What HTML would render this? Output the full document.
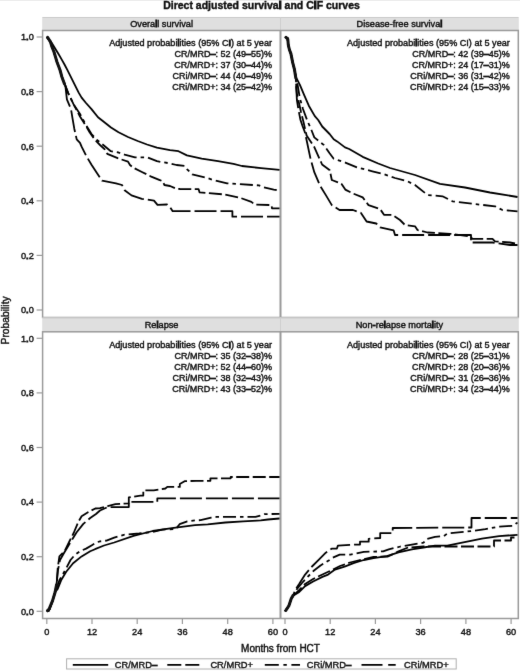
<!DOCTYPE html><html><head><meta charset="utf-8"><style>html,body{margin:0;padding:0;background:#fff;width:520px;height:672px;overflow:hidden}svg{display:block}text{font-family:"Liberation Sans", sans-serif;fill:#111;stroke:#111;stroke-width:0.4px}.b{stroke-width:1.1px}svg{will-change:transform}</style></head><body>
<svg width="520" height="672" viewBox="0 0 520 672">
<rect width="520" height="672" fill="#fff"/>
<defs><filter id="bl" x="0" y="0" width="1" height="1" color-interpolation-filters="sRGB"><feConvolveMatrix order="3" kernelMatrix="0.0052 0.0619 0.0052 0.0619 0.7314 0.0619 0.0052 0.0619 0.0052" divisor="1" edgeMode="duplicate" preserveAlpha="true"/></filter></defs><g filter="url(#bl)"><rect width="520" height="672" fill="#fff"/>
<text x="261.5" y="8.5" font-size="10.5" font-weight="bold" text-anchor="middle">Direct adjusted surviva<tspan class="b">l</tspan> and C<tspan class="b">I</tspan>F curves</text>
<rect x="42.2" y="17.0" width="476.5999999999999" height="13.5" fill="#dfdfdf"/>
<line x1="42.6" y1="17.5" x2="518.3" y2="17.5" stroke="#cbcbcb" stroke-width="1"/>
<line x1="280.5" y1="17.0" x2="280.5" y2="30.5" stroke="#cfcfcf" stroke-width="1"/>
<text x="161.6" y="27.0" font-size="9.2" text-anchor="middle">Overa<tspan class="b">l</tspan>l survival</text>
<text x="272.0" y="46.3" font-size="9.1" text-anchor="end">Adjusted probabi<tspan class="b">l</tspan>ities (95% C<tspan class="b">I</tspan>) at 5 year</text>
<text x="272.0" y="57.3" font-size="9" text-anchor="end">CR/MRD<tspan class="b">–</tspan>: 52 (49<tspan class="b">–</tspan>55)%</text>
<text x="272.0" y="68.3" font-size="9" text-anchor="end">CR/MRD+: 37 (30<tspan class="b">–</tspan>44)%</text>
<text x="272.0" y="79.3" font-size="9" text-anchor="end">CRi/MRD<tspan class="b">–</tspan>: 44 (40<tspan class="b">–</tspan>49)%</text>
<text x="272.0" y="90.3" font-size="9" text-anchor="end">CRi/MRD+: 34 (25<tspan class="b">–</tspan>42)%</text>
<text x="399.4" y="27.0" font-size="9.2" text-anchor="middle">Disease-free surviva<tspan class="b">l</tspan></text>
<text x="509.79999999999995" y="46.3" font-size="9.1" text-anchor="end">Adjusted probabi<tspan class="b">l</tspan>ities (95% CI) at 5 year</text>
<text x="509.79999999999995" y="57.3" font-size="9" text-anchor="end">CR/MRD<tspan class="b">–</tspan>: 42 (39<tspan class="b">–</tspan>45)%</text>
<text x="509.79999999999995" y="68.3" font-size="9" text-anchor="end">CR/MRD+: 24 (17<tspan class="b">–</tspan>31)%</text>
<text x="509.79999999999995" y="79.3" font-size="9" text-anchor="end">CRi/MRD<tspan class="b">–</tspan>: 36 (31<tspan class="b">–</tspan>42)%</text>
<text x="509.79999999999995" y="90.3" font-size="9" text-anchor="end">CRi/MRD+: 24 (15<tspan class="b">–</tspan>33)%</text>
<rect x="42.6" y="30.5" width="475.69999999999993" height="287.0" fill="none" stroke="#9a9a9a" stroke-width="1.5"/>
<line x1="280.5" y1="30.5" x2="280.5" y2="317.5" stroke="#9a9a9a" stroke-width="2"/>
<line x1="36.6" y1="37.0" x2="42" y2="37.0" stroke="#9a9a9a" stroke-width="1.2"/>
<text x="33.8" y="40.3" font-size="9.2" text-anchor="end">1<tspan class="b">.</tspan>0</text>
<line x1="36.6" y1="91.6" x2="42" y2="91.6" stroke="#9a9a9a" stroke-width="1.2"/>
<text x="33.8" y="94.9" font-size="9.2" text-anchor="end">0<tspan class="b">.</tspan>8</text>
<line x1="36.6" y1="146.2" x2="42" y2="146.2" stroke="#9a9a9a" stroke-width="1.2"/>
<text x="33.8" y="149.5" font-size="9.2" text-anchor="end">0<tspan class="b">.</tspan>6</text>
<line x1="36.6" y1="200.8" x2="42" y2="200.8" stroke="#9a9a9a" stroke-width="1.2"/>
<text x="33.8" y="204.1" font-size="9.2" text-anchor="end">0<tspan class="b">.</tspan>4</text>
<line x1="36.6" y1="255.4" x2="42" y2="255.4" stroke="#9a9a9a" stroke-width="1.2"/>
<text x="33.8" y="258.7" font-size="9.2" text-anchor="end">0<tspan class="b">.</tspan>2</text>
<line x1="36.6" y1="310.0" x2="42" y2="310.0" stroke="#9a9a9a" stroke-width="1.2"/>
<text x="33.8" y="313.3" font-size="9.2" text-anchor="end">0<tspan class="b">.</tspan>0</text>
<rect x="42.2" y="317.5" width="476.5999999999999" height="14.300000000000011" fill="#dfdfdf"/>
<line x1="42.6" y1="318.0" x2="518.3" y2="318.0" stroke="#cbcbcb" stroke-width="1"/>
<line x1="280.5" y1="317.5" x2="280.5" y2="331.8" stroke="#cfcfcf" stroke-width="1"/>
<text x="161.6" y="327.5" font-size="9.2" text-anchor="middle">Re<tspan class="b">l</tspan>apse</text>
<text x="272.0" y="347.6" font-size="9.1" text-anchor="end">Adjusted probabi<tspan class="b">l</tspan>ities (95% C<tspan class="b">I</tspan>) at 5 year</text>
<text x="272.0" y="358.6" font-size="9" text-anchor="end">CR/MRD<tspan class="b">–</tspan>: 35 (32<tspan class="b">–</tspan>38)%</text>
<text x="272.0" y="369.6" font-size="9" text-anchor="end">CR/MRD+: 52 (44<tspan class="b">–</tspan>60)%</text>
<text x="272.0" y="380.6" font-size="9" text-anchor="end">CRi/MRD<tspan class="b">–</tspan>: 38 (32<tspan class="b">–</tspan>43)%</text>
<text x="272.0" y="391.6" font-size="9" text-anchor="end">CRi/MRD+: 43 (33<tspan class="b">–</tspan>52)%</text>
<text x="399.4" y="327.5" font-size="9.2" text-anchor="middle">Non<tspan class="b">-</tspan>re<tspan class="b">l</tspan>apse morta<tspan class="b">l</tspan>ity</text>
<text x="509.79999999999995" y="347.6" font-size="9.1" text-anchor="end">Adjusted probabi<tspan class="b">l</tspan>ities (95% CI) at 5 year</text>
<text x="509.79999999999995" y="358.6" font-size="9" text-anchor="end">CR/MRD<tspan class="b">–</tspan>: 28 (25<tspan class="b">–</tspan>31)%</text>
<text x="509.79999999999995" y="369.6" font-size="9" text-anchor="end">CR/MRD+: 28 (20<tspan class="b">–</tspan>36)%</text>
<text x="509.79999999999995" y="380.6" font-size="9" text-anchor="end">CRi/MRD<tspan class="b">–</tspan>: 31 (26<tspan class="b">–</tspan>36)%</text>
<text x="509.79999999999995" y="391.6" font-size="9" text-anchor="end">CRi/MRD+: 34 (23<tspan class="b">–</tspan>44)%</text>
<rect x="42.6" y="331.8" width="475.69999999999993" height="286.7" fill="none" stroke="#9a9a9a" stroke-width="1.5"/>
<line x1="280.5" y1="331.8" x2="280.5" y2="618.5" stroke="#9a9a9a" stroke-width="2"/>
<line x1="36.6" y1="338.3" x2="42" y2="338.3" stroke="#9a9a9a" stroke-width="1.2"/>
<text x="33.8" y="341.6" font-size="9.2" text-anchor="end">1<tspan class="b">.</tspan>0</text>
<line x1="36.6" y1="392.9" x2="42" y2="392.9" stroke="#9a9a9a" stroke-width="1.2"/>
<text x="33.8" y="396.2" font-size="9.2" text-anchor="end">0<tspan class="b">.</tspan>8</text>
<line x1="36.6" y1="447.5" x2="42" y2="447.5" stroke="#9a9a9a" stroke-width="1.2"/>
<text x="33.8" y="450.8" font-size="9.2" text-anchor="end">0<tspan class="b">.</tspan>6</text>
<line x1="36.6" y1="502.1" x2="42" y2="502.1" stroke="#9a9a9a" stroke-width="1.2"/>
<text x="33.8" y="505.4" font-size="9.2" text-anchor="end">0<tspan class="b">.</tspan>4</text>
<line x1="36.6" y1="556.7" x2="42" y2="556.7" stroke="#9a9a9a" stroke-width="1.2"/>
<text x="33.8" y="560.0" font-size="9.2" text-anchor="end">0<tspan class="b">.</tspan>2</text>
<line x1="36.6" y1="611.3" x2="42" y2="611.3" stroke="#9a9a9a" stroke-width="1.2"/>
<text x="33.8" y="614.6" font-size="9.2" text-anchor="end">0<tspan class="b">.</tspan>0</text>
<line x1="46.8" y1="619" x2="46.8" y2="624" stroke="#9a9a9a" stroke-width="1.2"/>
<text x="46.8" y="635.2" font-size="9.2" text-anchor="middle">0</text>
<line x1="92.0" y1="619" x2="92.0" y2="624" stroke="#9a9a9a" stroke-width="1.2"/>
<text x="92.0" y="635.2" font-size="9.2" text-anchor="middle">12</text>
<line x1="137.2" y1="619" x2="137.2" y2="624" stroke="#9a9a9a" stroke-width="1.2"/>
<text x="137.2" y="635.2" font-size="9.2" text-anchor="middle">24</text>
<line x1="182.4" y1="619" x2="182.4" y2="624" stroke="#9a9a9a" stroke-width="1.2"/>
<text x="182.4" y="635.2" font-size="9.2" text-anchor="middle">36</text>
<line x1="227.7" y1="619" x2="227.7" y2="624" stroke="#9a9a9a" stroke-width="1.2"/>
<text x="227.7" y="635.2" font-size="9.2" text-anchor="middle">48</text>
<line x1="272.9" y1="619" x2="272.9" y2="624" stroke="#9a9a9a" stroke-width="1.2"/>
<text x="272.9" y="635.2" font-size="9.2" text-anchor="middle">60</text>
<line x1="285.0" y1="619" x2="285.0" y2="624" stroke="#9a9a9a" stroke-width="1.2"/>
<text x="285.0" y="635.2" font-size="9.2" text-anchor="middle">0</text>
<line x1="330.2" y1="619" x2="330.2" y2="624" stroke="#9a9a9a" stroke-width="1.2"/>
<text x="330.2" y="635.2" font-size="9.2" text-anchor="middle">12</text>
<line x1="375.4" y1="619" x2="375.4" y2="624" stroke="#9a9a9a" stroke-width="1.2"/>
<text x="375.4" y="635.2" font-size="9.2" text-anchor="middle">24</text>
<line x1="420.6" y1="619" x2="420.6" y2="624" stroke="#9a9a9a" stroke-width="1.2"/>
<text x="420.6" y="635.2" font-size="9.2" text-anchor="middle">36</text>
<line x1="465.9" y1="619" x2="465.9" y2="624" stroke="#9a9a9a" stroke-width="1.2"/>
<text x="465.9" y="635.2" font-size="9.2" text-anchor="middle">48</text>
<line x1="511.1" y1="619" x2="511.1" y2="624" stroke="#9a9a9a" stroke-width="1.2"/>
<text x="511.1" y="635.2" font-size="9.2" text-anchor="middle">60</text>
<text x="280.5" y="651.8" font-size="10" text-anchor="middle">Months from HCT</text>
<text transform="translate(9.0,320.4) rotate(-90)" font-size="10.3" text-anchor="middle">Probability</text>
<rect x="66.6" y="658.8" width="389.6" height="10.2" fill="none" stroke="#b0b0b0" stroke-width="1"/>
<line x1="72.8" y1="664.8" x2="108.2" y2="664.8" stroke="#000" stroke-width="1.8"/>
<text x="114.8" y="668.0" font-size="9.3">CR/MRD<tspan class="b">–</tspan></text>
<line x1="167.3" y1="664.8" x2="200.4" y2="664.8" stroke="#000" stroke-width="1.8" stroke-dasharray="14 4"/>
<text x="210.4" y="668.0" font-size="9.3">CR/MRD+</text>
<line x1="264.8" y1="664.8" x2="300" y2="664.8" stroke="#000" stroke-width="1.8" stroke-dasharray="14 4.6 3.4 4.6"/>
<text x="306.8" y="668.0" font-size="9.3">CRi/MRD<tspan class="b">–</tspan></text>
<line x1="361.5" y1="664.8" x2="395.7" y2="664.8" stroke="#000" stroke-width="1.8" stroke-dasharray="21 5.7"/>
<text x="404" y="668.0" font-size="9.3">CRi/MRD+</text>
<path d="M46.8,37.0 L50.5,41.0 L53.0,45.0 L55.6,49.2 L58.5,54.0 L61.9,59.9 L64.5,64.5 L67.2,69.7 L71.7,78.6 L75.3,85.8 L78.8,92.9 L81.6,97.6 L86.0,103.0 L91.5,109.1 L98.0,117.3 L105.0,122.7 L111.0,127.5 L118.5,132.3 L128.0,137.0 L137.7,141.0 L147.0,144.5 L156.9,147.7 L170.0,150.1 L178.5,151.2 L186.9,155.4 L201.7,158.6 L218.0,161.2 L233.5,163.8 L241.9,166.0 L261.0,168.1 L279.5,169.8" fill="none" stroke="#000" stroke-width="1.8" stroke-linejoin="round" />
<path d="M46.8,37.0 L50.5,42.0 L52.0,47.0 L54.0,52.0 L55.5,57.0 L57.0,62.0 L58.5,66.0 L60.0,70.0 L61.9,76.9 L65.4,85.8 L68.1,92.9 L73.5,104.2 L80.0,114.0 L86.0,125.0 L91.5,134.0 L97.0,140.0 L103.0,144.8 L110.8,151.2 L118.5,152.5 L124.6,154.7 L135.0,157.3 L147.1,157.3 L156.9,161.2 L170.0,163.4 L176.5,165.0 L184.8,166.0 L186.9,169.1 L192.2,174.4 L206.0,177.6 L212.3,179.7 L227.1,183.3 L258.9,185.4 L263.1,187.1 L273.7,189.7 L279.5,190.3" fill="none" stroke="#000" stroke-width="1.8" stroke-linejoin="round" stroke-dasharray="13 4 3.5 4"/>
<path d="M46.8,37.0 L50.5,42.0 L52.0,47.0 L54.0,52.0 L55.5,57.0 L57.0,62.0 L58.5,66.0 L60.0,70.0 L61.9,76.9 L65.4,85.8 L68.1,92.9 L73.5,104.2 L80.0,116.5 L86.6,127.1 L89.6,132.3 L95.0,140.0 L100.0,145.0 L105.0,149.6 L107.3,153.8 L117.7,158.2 L128.0,161.6 L130.0,165.0 L133.3,167.7 L141.9,172.0 L147.3,174.6 L150.6,176.3 L159.2,179.8 L162.7,181.3 L164.4,185.0 L170.0,186.0 L176.3,188.8 L180.0,189.0 L198.6,189.2 L199.6,192.4 L225.0,194.5 L239.8,197.7 L251.4,201.9 L254.6,204.5 L271.5,205.1 L272.0,208.3 L279.5,208.3" fill="none" stroke="#000" stroke-width="1.8" stroke-linejoin="round" stroke-dasharray="13 3.5"/>
<path d="M46.8,37.0 L50.5,42.0 L52.0,47.0 L54.0,52.0 L55.5,57.0 L57.0,62.0 L58.5,66.0 L60.0,70.0 L61.9,76.9 L65.4,85.8 L66.9,99.3 L71.0,109.1 L72.6,118.9 L74.3,128.7 L76.7,139.4 L80.0,142.9 L81.6,146.7 L86.6,156.6 L91.5,164.7 L96.9,172.9 L102.1,180.7 L116.0,183.3 L122.0,185.0 L124.6,190.2 L131.5,195.4 L141.9,198.8 L154.0,200.6 L157.5,204.9 L167.0,204.5 L170.4,207.7 L172.7,211.2 L232.4,211.2 L232.4,216.7 L279.5,216.7" fill="none" stroke="#000" stroke-width="1.8" stroke-linejoin="round" stroke-dasharray="22 4"/>
<path d="M285.0,37.0 L287.5,38.0 L288.3,45.0 L289.5,50.0 L290.9,53.6 L292.7,62.6 L294.5,69.7 L295.8,76.9 L299.9,84.9 L304.3,95.3 L308.8,105.7 L314.8,116.1 L318.2,120.0 L322.2,126.5 L329.6,134.0 L333.7,139.3 L337.1,141.4 L345.0,147.4 L349.2,149.0 L362.7,156.8 L378.2,163.5 L390.0,168.0 L415.0,175.0 L440.0,183.8 L465.0,187.5 L490.0,192.5 L517.5,197.0" fill="none" stroke="#000" stroke-width="1.8" stroke-linejoin="round" />
<path d="M285.0,37.0 L287.5,38.0 L288.3,45.0 L289.5,50.0 L290.9,53.6 L292.7,62.6 L294.5,69.7 L295.8,76.9 L297.6,84.9 L299.9,98.3 L302.9,108.7 L307.3,120.6 L311.8,131.0 L314.3,137.4 L324.0,145.1 L329.6,153.3 L333.7,158.7 L345.3,162.6 L356.9,167.4 L372.4,171.3 L384.0,174.2 L395.0,178.0 L407.5,181.3 L415.0,185.0 L427.5,195.0 L442.5,196.3 L452.5,201.3 L472.5,203.8 L495.0,206.3 L502.5,210.0 L517.5,211.3" fill="none" stroke="#000" stroke-width="1.8" stroke-linejoin="round" stroke-dasharray="13 4 3.5 4"/>
<path d="M285.0,37.0 L287.5,38.0 L288.3,45.0 L289.5,50.0 L290.9,53.6 L292.7,62.6 L294.5,69.7 L295.8,76.9 L296.3,87.6 L297.0,95.0 L299.0,103.0 L301.0,112.0 L303.5,122.0 L306.6,135.5 L314.3,147.1 L322.1,164.5 L329.8,170.3 L331.8,180.0 L341.4,183.8 L345.3,189.6 L353.0,193.5 L362.7,197.4 L368.5,205.1 L380.1,209.0 L384.0,214.8 L392.5,215.0 L400.0,220.0 L405.0,225.0 L415.0,226.3 L417.5,230.0 L427.5,232.5 L450.0,233.8 L470.0,236.3 L472.5,238.8 L492.5,238.8 L495.0,241.3 L510.0,242.5 L517.5,244.0" fill="none" stroke="#000" stroke-width="1.8" stroke-linejoin="round" stroke-dasharray="13 3.5"/>
<path d="M285.0,37.0 L287.5,38.0 L288.3,45.0 L289.5,50.0 L290.9,53.6 L292.7,62.6 L294.5,69.7 L295.8,76.9 L296.3,87.6 L296.9,100.0 L298.5,110.0 L300.5,120.0 L302.5,126.0 L304.7,131.6 L307.0,142.0 L310.5,158.7 L314.3,172.2 L320.1,185.8 L326.0,195.4 L331.8,205.1 L339.5,210.0 L353.0,210.0 L360.8,212.8 L366.6,221.5 L376.2,223.5 L380.1,227.4 L393.6,230.3 L395.0,235.0 L471.0,235.0 L471.0,242.5 L492.5,242.5 L510.0,245.0 L517.5,245.0" fill="none" stroke="#000" stroke-width="1.8" stroke-linejoin="round" stroke-dasharray="22 4"/>
<path d="M46.8,611.3 L49.1,610.3 L52.5,600.9 L55.1,592.3 L57.7,588.9 L61.1,580.3 L66.2,571.8 L73.1,563.2 L81.6,556.4 L90.2,551.3 L95.0,549.2 L104.0,545.5 L114.2,542.5 L133.5,535.8 L152.7,531.0 L171.9,528.1 L195.0,525.2 L207.7,524.3 L225.4,522.5 L243.1,521.3 L260.8,520.4 L267.9,519.5 L279.5,518.5" fill="none" stroke="#000" stroke-width="1.8" stroke-linejoin="round" />
<path d="M46.8,611.3 L49.1,610.3 L52.5,600.9 L55.1,592.3 L59.4,580.3 L66.2,568.4 L70.5,560.0 L74.8,555.0 L80.3,551.0 L86.1,548.6 L91.9,545.2 L96.7,542.3 L100.0,541.4 L106.5,540.6 L114.2,537.7 L123.8,534.8 L139.2,533.5 L152.7,531.9 L162.3,529.6 L175.8,529.0 L179.6,524.2 L187.3,521.3 L195.0,520.4 L200.6,520.2 L211.2,517.7 L216.5,516.9 L255.5,516.9 L260.8,515.4 L264.3,514.2 L279.5,513.8" fill="none" stroke="#000" stroke-width="1.8" stroke-linejoin="round" stroke-dasharray="13 4 3.5 4"/>
<path d="M46.8,611.3 L49.1,610.3 L52.5,600.9 L55.1,592.3 L56.8,582.0 L57.7,568.4 L59.4,556.4 L64.5,551.3 L69.6,541.0 L73.9,532.5 L78.2,522.2 L81.6,516.2 L88.4,512.0 L95.3,508.5 L100.0,508.1 L107.7,506.2 L115.4,504.2 L128.8,503.3 L128.8,497.5 L140.4,495.6 L143.3,495.6 L143.3,490.4 L153.8,490.4 L165.4,488.5 L167.3,486.9 L179.8,486.9 L179.8,484.0 L184.6,481.2 L196.0,480.8 L210.4,480.8 L210.4,478.3 L230.7,478.3 L230.7,477.0 L279.5,477.0" fill="none" stroke="#000" stroke-width="1.8" stroke-linejoin="round" stroke-dasharray="13 3.5"/>
<path d="M46.8,611.3 L49.1,610.3 L52.5,600.9 L55.1,592.3 L56.8,582.0 L58.0,570.0 L60.0,560.0 L64.0,553.0 L70.0,543.0 L76.5,532.5 L83.3,523.9 L90.2,518.0 L96.0,514.0 L100.0,510.5 L107.7,507.1 L128.8,507.1 L128.8,501.9 L157.3,501.9 L157.3,498.4 L279.5,498.3" fill="none" stroke="#000" stroke-width="1.8" stroke-linejoin="round" stroke-dasharray="22 4"/>
<path d="M285.0,611.3 L286.0,610.0 L288.9,605.7 L291.2,598.8 L293.5,595.4 L299.3,591.9 L305.1,586.1 L313.1,581.5 L322.4,576.9 L328.1,574.6 L335.0,569.6 L344.6,566.7 L354.2,562.9 L363.8,560.0 L373.5,558.1 L386.9,556.2 L398.5,552.3 L411.9,549.4 L423.5,547.5 L435.0,545.6 L447.3,545.7 L464.6,542.2 L481.9,538.7 L499.2,536.1 L517.5,534.8" fill="none" stroke="#000" stroke-width="1.8" stroke-linejoin="round" />
<path d="M285.0,611.3 L286.0,610.0 L288.9,605.7 L291.2,598.8 L293.5,595.4 L297.0,589.0 L302.0,583.0 L308.0,576.5 L314.0,570.5 L320.5,565.5 L324.6,563.0 L328.7,560.5 L332.8,557.7 L339.7,554.6 L350.4,554.6 L363.8,551.9 L383.1,551.3 L388.8,549.4 L400.4,546.5 L411.9,544.6 L423.5,542.7 L427.3,538.8 L435.0,536.9 L443.8,536.1 L447.3,533.5 L464.6,531.8 L471.5,531.0 L485.4,529.2 L499.2,526.6 L513.0,525.8 L516.5,523.2 L517.5,523.0" fill="none" stroke="#000" stroke-width="1.8" stroke-linejoin="round" stroke-dasharray="13 4 3.5 4"/>
<path d="M285.0,611.3 L286.0,610.0 L288.9,605.7 L291.2,598.8 L293.5,595.4 L299.3,590.0 L305.1,584.0 L313.1,579.0 L322.4,574.5 L330.0,571.0 L340.0,566.0 L350.0,562.5 L360.0,560.0 L373.5,557.0 L388.0,556.5 L398.5,551.3 L408.1,547.5 L423.5,546.5 L456.0,546.5 L494.0,546.5 L494.0,540.5 L511.0,540.5 L511.0,537.5 L517.5,537.5" fill="none" stroke="#000" stroke-width="1.8" stroke-linejoin="round" stroke-dasharray="13 3.5"/>
<path d="M285.0,611.3 L286.0,610.0 L288.9,605.7 L291.2,598.8 L293.5,595.4 L294.7,590.7 L299.3,583.8 L305.1,574.6 L312.0,566.5 L318.9,559.6 L325.8,552.7 L331.6,548.7 L336.9,548.5 L337.9,545.6 L354.2,544.6 L360.0,544.6 L360.0,541.7 L368.7,541.7 L368.7,538.8 L380.2,538.0 L380.2,533.1 L392.7,533.1 L392.7,528.0 L471.5,527.5 L471.5,518.0 L517.5,518.0" fill="none" stroke="#000" stroke-width="1.8" stroke-linejoin="round" stroke-dasharray="22 4"/>
<path d="M47.6,37.3 L50.5,42.0 L52.0,47.0 L54.0,52.0 L55.5,57.0 L57.0,62.0 L58.5,66.0 L60.0,70.0 L61.9,76.9 L64.5,84.0" fill="none" stroke="#111" stroke-width="3.0" stroke-linejoin="round" stroke-linecap="round"/>
<path d="M286.0,37.3 L287.8,39.0 L288.3,45.0 L289.5,50.0 L290.9,53.6 L292.7,62.6 L294.5,69.7 L295.8,78.0" fill="none" stroke="#111" stroke-width="3.0" stroke-linejoin="round" stroke-linecap="round"/>
<path d="M47.5,610.5 L49.1,609.0 L52.5,600.9 L55.1,592.3 L56.5,585.0" fill="none" stroke="#111" stroke-width="3.0" stroke-linejoin="round" stroke-linecap="round"/>
<path d="M285.8,610.5 L288.9,605.7 L291.2,598.8 L293.0,595.4" fill="none" stroke="#111" stroke-width="3.0" stroke-linejoin="round" stroke-linecap="round"/>
</g>
</svg></body></html>
